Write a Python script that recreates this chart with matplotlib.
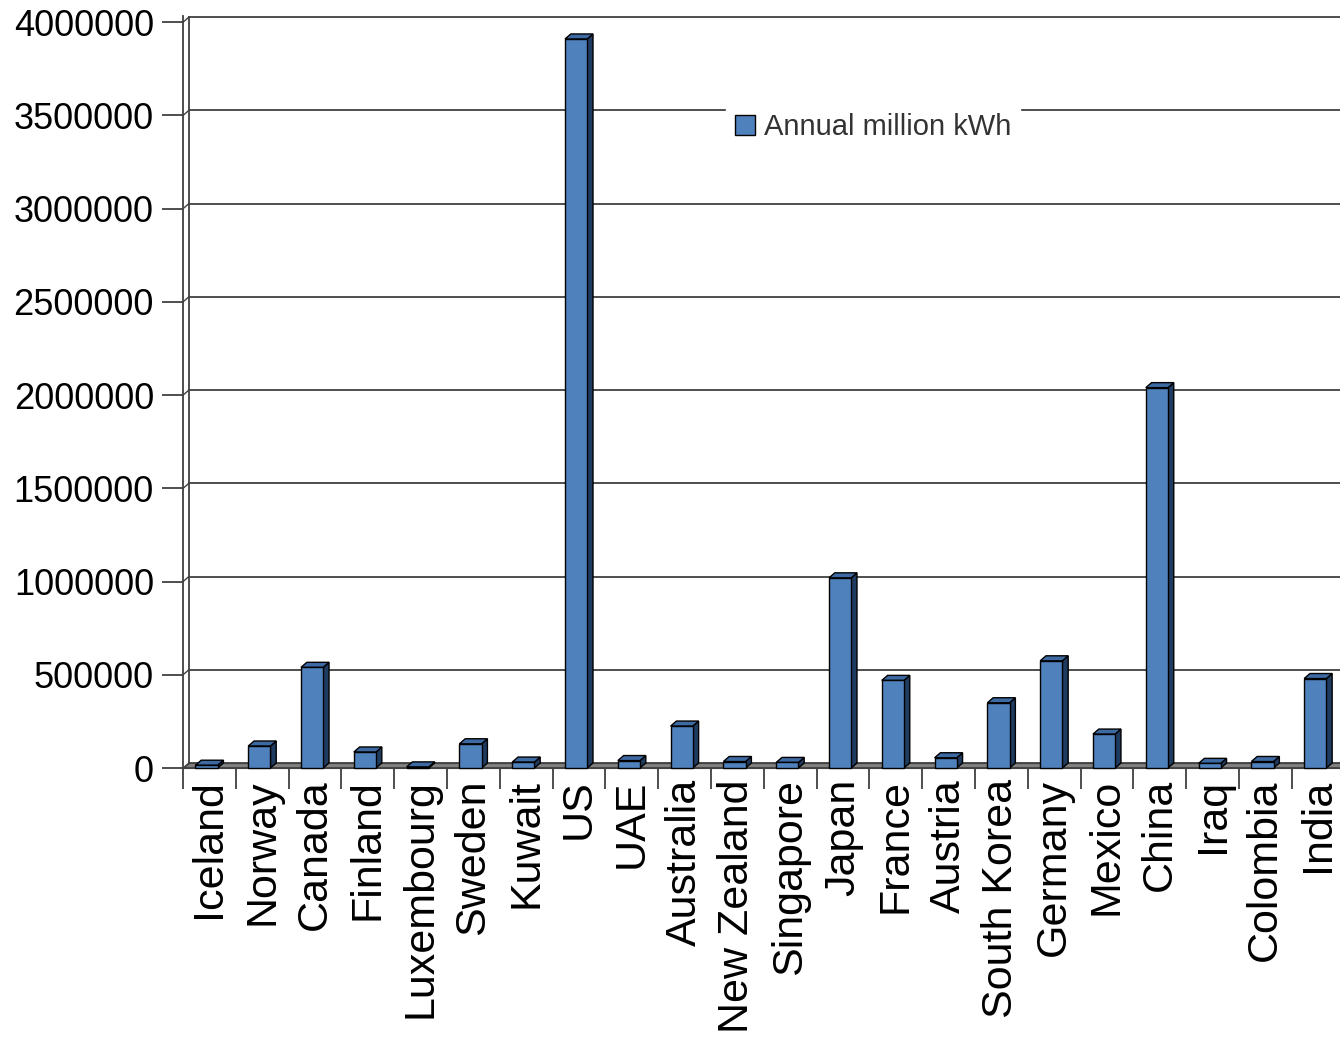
import matplotlib
matplotlib.use("Agg")
import matplotlib.pyplot as plt
from matplotlib.patches import Polygon, Patch

countries = ["Iceland", "Norway", "Canada", "Finland", "Luxembourg", "Sweden",
             "Kuwait", "US", "UAE", "Australia", "New Zealand", "Singapore",
             "Japan", "France", "Austria", "South Korea", "Germany", "Mexico",
             "China", "Iraq", "Colombia", "India"]
kwh = [15000, 118000, 540000, 86000, 6000, 130000,
       32000, 3910000, 40000, 225000, 35000, 30000,
       1020000, 470000, 55000, 350000, 575000, 182000,
       2040000, 25000, 35000, 480000]
yticks = [0, 500000, 1000000, 1500000, 2000000, 2500000, 3000000, 3500000, 4000000]

plt.rcParams["font.family"] = ["Liberation Sans", "DejaVu Sans"]

front = "#4f81bd"
side = "#1f3b60"
top = "#3d6aa3"

# fake 3d depth (category units / data units)
dx = 0.11
dy = 27000
w = 0.42

fig = plt.figure(figsize=(13.4, 10.4), dpi=100)
ax = fig.add_axes([0.1366, 0.2615, 0.8668, 0.7227])
n = len(countries)
ax.set_xlim(-0.5, n - 0.5)
ax.set_ylim(0, 4000000 + dy + 4000)

# back wall gridlines + left wall
for v in yticks:
    ax.plot([-0.5 + dx, n - 0.5 + 1], [v + dy, v + dy], color="#404040", lw=1.3, zorder=1, clip_on=False)
    ax.plot([-0.5, -0.5 + dx], [v, v + dy], color="#404040", lw=1.0, zorder=1)
ax.plot([-0.5 + dx, -0.5 + dx], [dy, 4000000 + dy], color="#404040", lw=1.3, zorder=1)

# floor
ax.add_patch(Polygon([(-0.5, 0), (n - 0.5 + 1, 0), (n - 0.5 + 1, dy), (-0.5 + dx, dy)],
                     closed=True, facecolor="#808080", edgecolor="#404040", lw=0.8, zorder=2, clip_on=False))

xs = list(range(n))
for i, v in zip(xs, kwh):
    x0 = i - w / 2 - dx / 2
    x1 = x0 + w
    ax.add_patch(Polygon([(x1, 0), (x1 + dx, dy), (x1 + dx, v + dy), (x1, v)],
                         closed=True, facecolor=side, edgecolor="black", lw=1.0, zorder=3, clip_on=False))
    ax.add_patch(Polygon([(x0, v), (x1, v), (x1 + dx, v + dy), (x0 + dx, v + dy)],
                         closed=True, facecolor=top, edgecolor="black", lw=1.0, zorder=3, clip_on=False))
    ax.bar(i - dx / 2, v, width=w, color=front, edgecolor="black", lw=1.0, zorder=4, clip_on=False)

for s in ["top", "right"]:
    ax.spines[s].set_visible(False)
ax.spines["left"].set_color("#404040")
ax.spines["left"].set_linewidth(1.3)
ax.spines["bottom"].set_color("#404040")
ax.spines["bottom"].set_linewidth(1.3)

ax.set_yticks(yticks)
ax.set_yticklabels([str(v) for v in yticks])
ax.tick_params(axis="y", length=15, width=1.3, color="#404040", labelsize=26, pad=6)

ax.set_xticks(xs)
ax.set_xticklabels(countries, rotation=90)
ax.set_xticks([i - 0.5 for i in range(n + 1)], minor=True)
ax.tick_params(axis="x", which="major", length=0, labelsize=31, pad=8)
ax.tick_params(axis="x", which="minor", length=15, width=1.3, color="#404040")

leg = ax.legend(handles=[Patch(facecolor=front, edgecolor="black", label="Annual million kWh")],
                loc="center", bbox_to_anchor=(0.594, 0.853), frameon=True, fontsize=21,
                handlelength=0.7, handleheight=0.7, handletextpad=0.3, borderpad=0.3)
leg.get_frame().set_edgecolor("white")
leg.get_frame().set_facecolor("white")
leg.get_frame().set_alpha(1)
leg.set_zorder(5)
for t in leg.get_texts():
    t.set_color("#333333")

fig.savefig("out.png", dpi=100)
